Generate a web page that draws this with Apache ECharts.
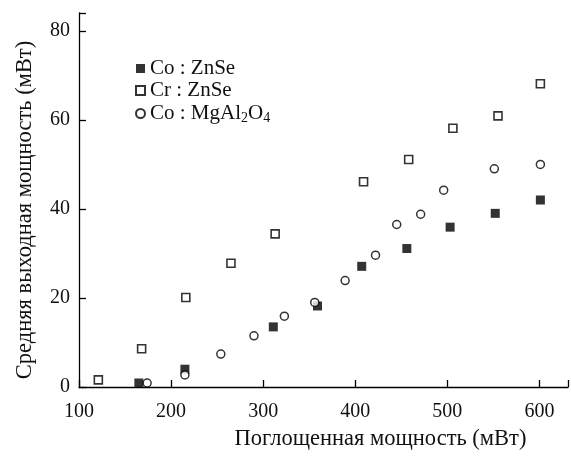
<!DOCTYPE html>
<html>
<head>
<meta charset="utf-8">
<script src="https://cdn.jsdelivr.net/npm/echarts@6/dist/echarts.min.js"></script>
<style>
  html, body { margin: 0; padding: 0; background: #fff; }
  #chart { width: 571px; height: 456px; }
</style>
</head>
<body>
<div id="chart"></div>
<script>
// Co:ZnSe (filled squares)
const coZnSeX = [165, 215, 311, 359, 407, 456, 503, 552, 601]
const coZnSeY = [0.9, 4.0, 13.5, 18.2, 27.1, 31.1, 35.9, 39.0, 42.0]
// Cr:ZnSe (open squares)
const crZnSeX = [121, 168, 216, 265, 313, 409, 458, 506, 555, 601]
const crZnSeY = [1.6, 8.6, 20.1, 27.8, 34.4, 46.1, 51.1, 58.1, 60.9, 68.1]
// Co:MgAl2O4 (open circles)
const coMgX = [174, 215, 254, 290, 323, 356, 389, 422, 445, 471, 496, 551, 601]
const coMgY = [0.9, 2.7, 7.4, 11.5, 15.9, 19.0, 23.9, 29.6, 36.5, 38.8, 44.2, 49.0, 50.0]

const seriesNames = ['Co : ZnSe', 'Cr : ZnSe', 'Co : MgAl2O4']
const xTicks = [100, 200, 300, 400, 500, 600]
const yTicks = [0, 20, 40, 60, 80]

const font = 'Liberation Serif'
const pair = (xs, ys) => xs.map((x, i) => [x, ys[i]])

const chart = echarts.init(document.getElementById('chart'), null, { renderer: 'canvas' })

const axisCommon = {
  axisLine: { show: true, lineStyle: { color: '#000', width: 1.3 } },
  axisTick: { show: true, inside: true, length: 7, lineStyle: { color: '#000', width: 1.3 } },
  splitLine: { show: false },
  nameLocation: 'middle',
  axisLabel: { fontFamily: font, fontSize: 20, color: '#111' }
}

chart.setOption({
  backgroundColor: '#fff',
  animation: false,
  grid: { left: 79, right: 1, top: 13, bottom: 65 },
  legend: {
    orient: 'vertical',
    left: 135,
    top: 58,
    padding: 0,
    itemWidth: 9,
    itemHeight: 9,
    itemGap: 1,
    itemTextGap: 10,
    data: seriesNames,
    formatter: name => {
      if (name === 'Co : MgAl2O4') return '{n|Co : MgAl}{s|2}{n|O}{s|4}'
      return '{n|' + name + '}'
    },
    textStyle: {
      fontFamily: font, fontSize: 21, color: '#111',
      rich: {
        n: { fontFamily: font, fontSize: 21, color: '#111', lineHeight: 21 },
        s: { fontFamily: font, fontSize: 14, color: '#111', padding: [9, 0, 0, 0], lineHeight: 21 }
      }
    }
  },
  xAxis: Object.assign({}, axisCommon, {
    type: 'value',
    min: 100,
    max: 631,
    interval: 100,
    name: 'Поглощенная мощность (мВт)',
    nameGap: 41,
    nameTextStyle: { fontFamily: font, fontSize: 22.5, color: '#111', padding: [0, 0, 0, 114] },
    axisLabel: Object.assign({}, axisCommon.axisLabel, {
      margin: 15,
      formatter: v => (xTicks.indexOf(v) >= 0 ? String(v) : '')
    })
  }),
  yAxis: Object.assign({}, axisCommon, {
    type: 'value',
    min: 0,
    max: 84,
    interval: 20,
    name: 'Средняя выходная мощность (мВт)',
    nameGap: 42,
    nameTextStyle: { fontFamily: font, fontSize: 22.5, color: '#111', padding: [0, 20, 0, 0] },
    axisLabel: Object.assign({}, axisCommon.axisLabel, {
      margin: 9,
      formatter: v => (yTicks.indexOf(v) >= 0 ? String(v) : '')
    })
  }),
  series: [
    {
      name: seriesNames[0],
      type: 'scatter',
      symbol: 'rect',
      symbolSize: 9,
      itemStyle: { color: '#000', borderColor: '#000', borderWidth: 0 },
      data: pair(coZnSeX, coZnSeY),
      z: 3
    },
    {
      name: seriesNames[1],
      type: 'scatter',
      symbol: 'rect',
      symbolSize: 8,
      itemStyle: { color: '#fff', borderColor: '#000', borderWidth: 1.6 },
      data: pair(crZnSeX, crZnSeY),
      z: 2
    },
    {
      name: seriesNames[2],
      type: 'scatter',
      symbol: 'circle',
      symbolSize: 8,
      itemStyle: { color: '#fff', borderColor: '#000', borderWidth: 1.5 },
      data: pair(coMgX, coMgY),
      z: 4
    }
  ]
})
</script>
</body>
</html>
